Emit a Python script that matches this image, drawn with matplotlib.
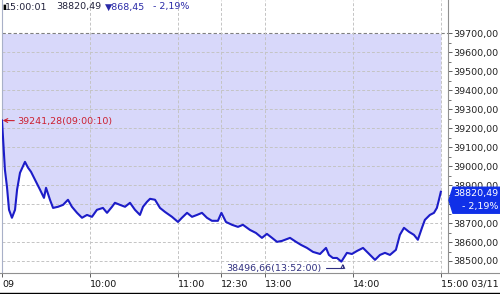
import matplotlib
matplotlib.use('Agg')
import matplotlib.pyplot as plt
from matplotlib.patches import Polygon
from matplotlib.lines import Line2D
from matplotlib.transforms import blended_transform_factory

# intraday index, x = trading minutes after 09:00 (lunch 11:30-12:30 skipped)
minutes = [0, 2.0, 3.4, 4.8, 6.8, 8.9, 10.3, 12.3, 15.7, 17.8, 19.8, 22.6, 26.0, 28.7,
           30.1, 32.8, 34.9, 38.3, 41.7, 45.1, 47.8, 51.3, 54.7, 58.1, 61.5, 64.9,
           69.0, 71.8, 75.2, 77.2, 80.7, 84.1, 87.5, 90.9, 94.3, 96.4, 99.1, 101.2,
           104.6, 108.0, 111.4, 116.2, 120.3, 123.0, 126.5, 129.9, 133.3, 136.7,
           140.1, 143.5, 147.6, 150.0, 153.1, 157.2, 161.3, 164.7, 169.5, 173.6,
           177.7, 181.1, 184.6, 188.0, 191.4, 196.9, 201.0, 204.4, 208.5, 212.6,
           217.4, 221.5, 223.5, 226.2, 229.0, 232.0, 235.8, 239.2, 242.7, 246.8,
           250.2, 255.0, 258.4, 261.8, 265.2, 269.3, 272.0, 274.8, 278.2, 281.6,
           284.3, 287.1, 289.1, 292.5, 295.3, 297.3, 298.7, 300.0]
prices = [39241.28, 38981, 38891, 38770, 38728, 38770, 38876, 38965, 39023, 38992,
          38971, 38928, 38876, 38833, 38886, 38823, 38780, 38786, 38796, 38823,
          38786, 38754, 38728, 38743, 38733, 38770, 38780, 38754, 38786, 38807,
          38796, 38786, 38807, 38770, 38743, 38786, 38812, 38828, 38823, 38780,
          38759, 38733, 38706, 38728, 38754, 38733, 38743, 38754, 38728, 38712,
          38712, 38754, 38706, 38691, 38680, 38691, 38664, 38648, 38622, 38643,
          38622, 38601, 38606, 38622, 38601, 38585, 38569, 38548, 38537, 38569,
          38532, 38516, 38516, 38496.66, 38543, 38537, 38553, 38569, 38543, 38506,
          38532, 38543, 38532, 38559, 38638, 38675, 38654, 38638, 38612, 38675,
          38717, 38743, 38754, 38780, 38823, 38865]

tick_pos = [0, 60, 120, 150, 180, 240, 300]
tick_labels = ['09', '10:00', '11:00', '12:30', '13:00', '14:00', '15:00 03/11']
y_ticks = list(range(38500, 39701, 100))
top_level = 39700

high_min, high_val, high_label = 0, 39241.28, '39241,28(09:00:10)'
low_min, low_val, low_label = 232, 38496.66, '38496,66(13:52:00)'
close_val = 38820.49
header_time = '15:00:01'
header_price = '38820,49'
header_chg = '\u25bc868,45'
header_pct = '- 2,19%'
box_lines = ['38820,49', '- 2,19%']

FS = 6.8
fig = plt.figure(figsize=(5.0, 2.94), dpi=100)
ax = fig.add_axes([2 / 500, 1 - 273 / 294, 446 / 500, 273 / 294])
ax.set_xlim(0, 304.9)
ax.set_ylim(38436.7, 39876.7)

# fill above the line up to the top level
ax.fill_between(minutes, prices, top_level, color='#d8d8fa', lw=0, zorder=1)

# grid
for y in y_ticks[:-1]:
    ax.plot([0, 300], [y, y], color='#c4c4c4', lw=0.7, ls=(0, (3, 2)), zorder=2)
ax.plot([0, 304.9], [top_level, top_level], color='#808080', lw=0.8, ls=(0, (3, 2)), zorder=2)
for x in tick_pos[1:]:
    ax.axvline(x, color='#c4c4c4', lw=0.7, ls=(0, (3, 2)), zorder=2)

ax.plot(minutes, prices, color='#1c1cc8', lw=1.5, zorder=3)

# axes styling
for s in ['top', 'bottom']:
    ax.spines[s].set_visible(False)
ax.spines['left'].set_color('#a8b0c8')
ax.spines['right'].set_color('#909090')
ax.yaxis.tick_right()
ax.set_yticks(y_ticks)
# the 38800 label sits under the close-value box, as in the original
ylabels = ['' if v == 38800 else f'{v:.2f}'.replace('.', ',') for v in y_ticks]
ax.set_yticklabels(ylabels, fontsize=FS, color='#222222')
ax.set_yticks([v + 50 for v in y_ticks[:-1]], minor=True)
ax.tick_params(axis='y', which='major', length=3, width=0.7, color='#606060', pad=1)
ax.tick_params(axis='y', which='minor', length=2, width=0.6, color='#606060')
ax.set_xticks(tick_pos)
ax.set_xticklabels(tick_labels, fontsize=FS, color='#111111', ha='left')
ax.tick_params(axis='x', length=3, width=0.7, color='#606060', pad=2)

# x axis baseline and bottom border across full width
fig.add_artist(Line2D([0, 1], [1 - 273 / 294] * 2, color='#909090', lw=0.8))
fig.add_artist(Line2D([0, 1], [1 - 292.5 / 294] * 2, color='#000000', lw=1.0))

# header
fig.text(2 / 500, 1 - 7 / 294, '\u25ae', fontsize=5, color='#000000', va='center')
fig.text(5 / 500, 1 - 7 / 294, header_time, fontsize=FS, color='#20203a', va='center')
fig.text(56 / 500, 1 - 7 / 294, header_price, fontsize=FS, color='#20203a', va='center')
fig.text(105 / 500, 1 - 7 / 294, header_chg, fontsize=FS, color='#2a2aa8', va='center')
fig.text(153 / 500, 1 - 7 / 294, header_pct, fontsize=FS, color='#2a2aa8', va='center')

# high / low annotations
ax.annotate(high_label, xy=(high_min + 0.5, high_val), xytext=(10.3, high_val - 5),
            fontsize=FS, color='#cc2030', ha='left', va='center',
            arrowprops=dict(arrowstyle='->', color='#cc2030', lw=0.8, shrinkA=0, shrinkB=0))
ax.annotate(low_label, xy=(low_min + 1, low_val - 10), xytext=(218.7, 38463),
            fontsize=FS, color='#303080', ha='right', va='center',
            arrowprops=dict(arrowstyle='->', color='#303080', lw=0.8, shrinkA=1, shrinkB=0,
                            connectionstyle='angle,angleA=0,angleB=90,rad=0'))

# close value box on the right
tr = blended_transform_factory(fig.transFigure, ax.transData)
h = 13 * 5.275
box = Polygon([(453 / 500, close_val + h), (1.0, close_val + h), (1.0, close_val - h),
               (453 / 500, close_val - h), (449 / 500, close_val)],
              closed=True, transform=tr, color='#1030e8', clip_on=False, zorder=5)
fig.add_artist(box)
fig.text(498 / 500, 0, box_lines[0], transform=tr, fontsize=FS, color='white', ha='right',
         va='center', zorder=6).set_y(close_val + 6.5 * 5.275)
fig.text(498 / 500, 0, box_lines[1], transform=tr, fontsize=FS, color='white', ha='right',
         va='center', zorder=6).set_y(close_val - 6.5 * 5.275)

fig.savefig('out.png', dpi=100)
